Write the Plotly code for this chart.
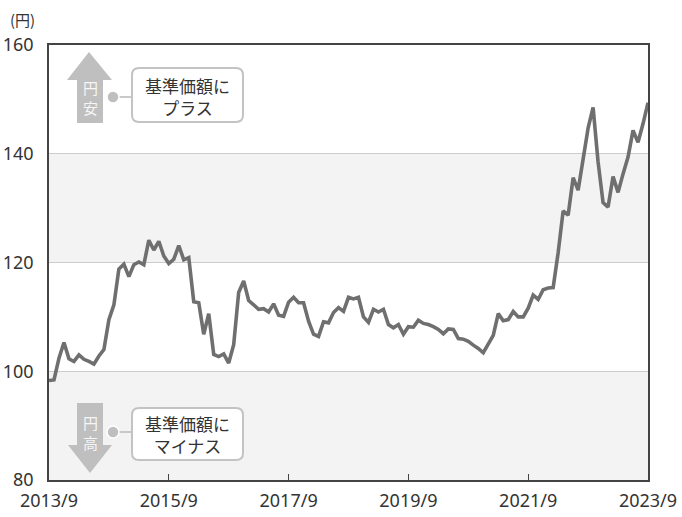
import plotly.graph_objects as go

# ---- data: USD/JPY month-end (2013/9 - 2023/9) ----
start_year, start_month = 2013, 9
usdjpy = [
    98.3, 98.4, 102.4, 105.3,
    102.3, 101.8, 103.0, 102.2, 101.8, 101.3, 102.8, 104.0, 109.5, 112.2, 118.8, 119.7,
    117.4, 119.6, 120.1, 119.6, 124.1, 122.3, 123.9, 121.2, 119.8, 120.6, 123.1, 120.5,
    120.9, 112.8, 112.6, 106.8, 110.6, 103.1, 102.7, 103.2, 101.5, 104.9, 114.5, 116.6,
    113.0, 112.1, 111.4, 111.5, 110.9, 112.4, 110.3, 110.1, 112.7, 113.6, 112.6, 112.6,
    109.2, 106.8, 106.4, 109.1, 108.9, 110.8, 111.7, 111.0, 113.6, 113.3, 113.6, 110.0,
    109.0, 111.4, 110.9, 111.4, 108.6, 108.0, 108.6, 106.8, 108.2, 108.1, 109.4, 108.8,
    108.6, 108.2, 107.7, 106.9, 107.8, 107.7, 106.0, 105.9, 105.5, 104.8, 104.2, 103.4,
    104.9, 106.6, 110.6, 109.3, 109.5, 111.0, 110.0, 110.0, 111.6, 114.0, 113.2, 115.0,
    115.3, 115.4, 121.8, 129.5, 128.7, 135.6, 133.3, 138.9, 144.7, 148.5, 138.5, 131.0,
    130.2, 135.8, 132.9, 136.3, 139.4, 144.3, 142.1, 145.5, 149.4,
]
months = []
y_, m_ = start_year, start_month
for _ in usdjpy:
    months.append(f"{y_}/{m_}")
    m_ += 1
    if m_ > 12:
        m_ = 1
        y_ += 1

x_ticks = ["2013/9", "2015/9", "2017/9", "2019/9", "2021/9", "2023/9"]
y_ticks = [80, 100, 120, 140, 160]
gray_bands = [(80, 100), (120, 140)]

# ---- layout geometry (pixels) ----
W, H = 682, 517
L, R, T, B = 49, 648, 45, 480


def fx(px):
    return (px - L) / (R - L)


def fy(py):
    return (B - py) / (B - T)


FONT = "Noto Sans, Noto Sans CJK JP, sans-serif"
TXT = "#333333"
ARROW = "#bfbfbf"
BOX = "#c3c3c3"

fig = go.Figure()
fig.add_trace(go.Scatter(
    x=months, y=usdjpy, mode="lines",
    line=dict(color="#6f6f6f", width=3.6),
    hoverinfo="x+y", showlegend=False,
))

shapes = []
for lo, hi in gray_bands:
    shapes.append(dict(type="rect", xref="paper", yref="y", x0=0, x1=1, y0=lo, y1=hi,
                       fillcolor="#f3f3f3", line=dict(width=0), layer="below"))


def path(pts):
    return "M " + " L ".join(f"{fx(a):.5f},{fy(b):.5f}" for a, b in pts) + " Z"


# up arrow (円安)
shapes.append(dict(type="path", xref="paper", yref="paper",
                   path=path([(89, 52), (112, 80), (103, 80), (103, 123), (77, 123), (77, 80), (67, 80)]),
                   fillcolor=ARROW, line=dict(width=0)))
# down arrow (円高)
shapes.append(dict(type="path", xref="paper", yref="paper",
                   path=path([(77, 403), (103, 403), (103, 445), (112, 445), (90, 473), (68, 445), (77, 445)]),
                   fillcolor=ARROW, line=dict(width=0)))


def rounded_box(x0, y0, x1, y1, r):
    # pixel coords, y downwards
    pts = [
        f"M {fx(x0 + r):.5f},{fy(y0):.5f}",
        f"L {fx(x1 - r):.5f},{fy(y0):.5f}",
        f"Q {fx(x1):.5f},{fy(y0):.5f} {fx(x1):.5f},{fy(y0 + r):.5f}",
        f"L {fx(x1):.5f},{fy(y1 - r):.5f}",
        f"Q {fx(x1):.5f},{fy(y1):.5f} {fx(x1 - r):.5f},{fy(y1):.5f}",
        f"L {fx(x0 + r):.5f},{fy(y1):.5f}",
        f"Q {fx(x0):.5f},{fy(y1):.5f} {fx(x0):.5f},{fy(y1 - r):.5f}",
        f"L {fx(x0):.5f},{fy(y0 + r):.5f}",
        f"Q {fx(x0):.5f},{fy(y0):.5f} {fx(x0 + r):.5f},{fy(y0):.5f} Z",
    ]
    return " ".join(pts)


for (cy, by0, by1) in [(97, 68, 122), (432, 408, 460)]:
    shapes.append(dict(type="line", xref="paper", yref="paper",
                       x0=fx(113), x1=fx(132), y0=fy(cy), y1=fy(cy),
                       line=dict(color=BOX, width=1.8)))
    shapes.append(dict(type="path", xref="paper", yref="paper",
                       path=rounded_box(132, by0, 243, by1, 7),
                       fillcolor="white", line=dict(color=BOX, width=2)))
    shapes.append(dict(type="circle", xref="paper", yref="paper",
                       x0=fx(107), x1=fx(119), y0=fy(cy + 6), y1=fy(cy - 6),
                       fillcolor=ARROW, line=dict(color="white", width=1.5)))

annotations = []
for txt, px, py in [("円<br>安", 90, 97), ("円<br>高", 90, 432)]:
    annotations.append(dict(text=txt, x=fx(px), y=fy(py), xref="paper", yref="paper",
                            showarrow=False, xanchor="center", yanchor="middle",
                            font=dict(family="Noto Sans CJK JP", size=15, color="#f6f6f6")))
annotations.append(dict(text="基準価額に<br>プラス", x=fx(187.5), y=fy(96), xref="paper", yref="paper",
                        showarrow=False, xanchor="center", yanchor="middle",
                        font=dict(family="Noto Sans CJK JP", size=17, color=TXT)))
annotations.append(dict(text="基準価額に<br>マイナス", x=fx(187.5), y=fy(434), xref="paper", yref="paper",
                        showarrow=False, xanchor="center", yanchor="middle",
                        font=dict(family="Noto Sans CJK JP", size=17, color=TXT)))
annotations.append(dict(text="(円)", x=fx(8), y=fy(19), xref="paper", yref="paper",
                        showarrow=False, xanchor="left", yanchor="middle",
                        font=dict(family="Noto Sans CJK JP", size=15, color=TXT)))

fig.update_layout(
    width=W, height=H,
    margin=dict(l=L, r=W - R, t=T, b=H - B, pad=0, autoexpand=False),
    paper_bgcolor="white", plot_bgcolor="white",
    font=dict(family=FONT, size=17, color=TXT),
    shapes=shapes, annotations=annotations,
    xaxis=dict(type="category", range=[0, len(months) - 1], automargin=False,
               tickmode="array", tickvals=x_ticks, ticktext=x_ticks,
               ticks="inside", ticklen=6, tickwidth=1.3, tickcolor="#444",
               showgrid=False, zeroline=False,
               showline=True, mirror=True, linecolor="#444", linewidth=1.5,
               tickfont=dict(family=FONT, size=18, color=TXT), ticklabelstandoff=4),
    yaxis=dict(range=[80, 160], tickmode="array", tickvals=y_ticks, automargin=False,
               ticks="", showgrid=True, gridcolor="#cccccc", gridwidth=1,
               zeroline=False, showline=True, mirror=True, linecolor="#444", linewidth=1.5,
               tickfont=dict(family=FONT, size=18, color=TXT), ticklabelstandoff=10),
)

fig.write_html("out.html", config={"displayModeBar": False},
               post_script="document.body.style.margin='0';document.body.style.overflow='hidden';")
